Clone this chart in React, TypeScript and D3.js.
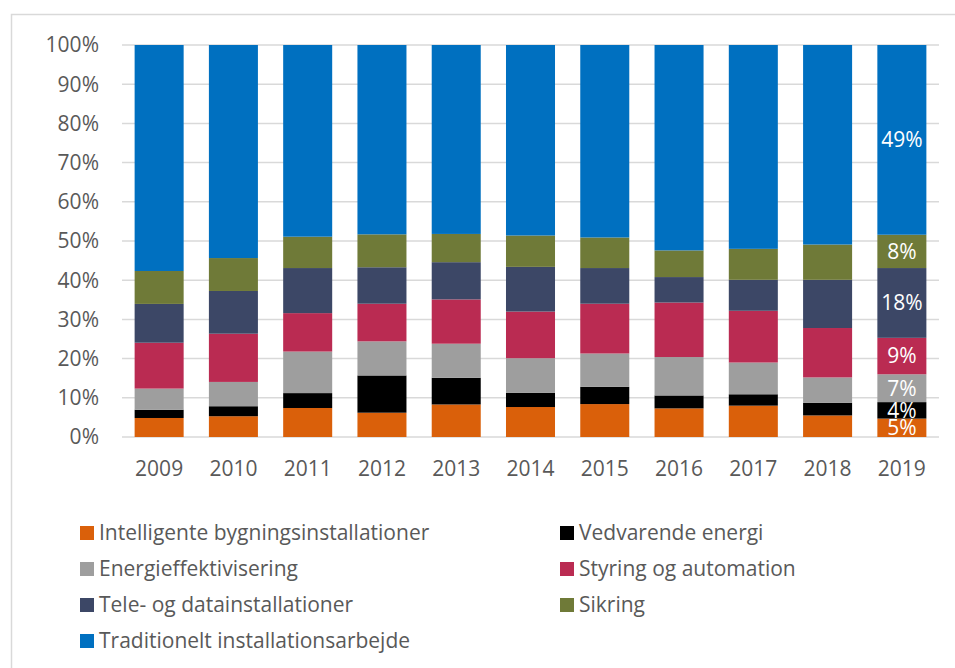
import React from "react";
import * as d3 from "d3";

const years = ["2009","2010","2011","2012","2013","2014","2015","2016","2017","2018","2019"];
const seriesNames = [
  "Intelligente bygningsinstallationer",
  "Vedvarende energi",
  "Energieffektivisering",
  "Styring og automation",
  "Tele- og datainstallationer",
  "Sikring",
  "Traditionelt installationsarbejde",
];
const colors = ["#DA600A", "#000000", "#9E9E9E", "#BA2B52", "#3C4766", "#6F7A38", "#0070C0"];

const intelligente = [4.85, 5.3, 7.4, 6.2, 8.3, 7.65, 8.4, 7.3, 8.0, 5.5, 4.7];
const vedvarende = [2.1, 2.55, 3.8, 9.5, 6.8, 3.65, 4.4, 3.3, 2.9, 3.2, 4.2];
const energieff = [5.4, 6.2, 10.6, 8.7, 8.7, 8.8, 8.5, 9.8, 8.1, 6.5, 7.1];
const styring = [11.7, 12.3, 9.8, 9.6, 11.3, 11.9, 12.7, 13.9, 13.2, 12.6, 9.3];
const tele = [9.9, 10.9, 11.5, 9.3, 9.5, 11.4, 9.1, 6.5, 7.9, 12.3, 17.8];
const sikring = [8.4, 8.4, 8.0, 8.4, 7.2, 8.0, 7.8, 6.8, 7.9, 9.0, 8.5];
const traditionelt = [57.65, 54.35, 48.9, 48.3, 48.2, 48.6, 49.1, 52.4, 52.0, 50.9, 48.4];

const labelYear = "2019";
const labelTexts = ["5%", "4%", "7%", "9%", "18%", "8%", "49%"];
const yTicks = [0, 10, 20, 30, 40, 50, 60, 70, 80, 90, 100];

const seriesValues = [intelligente, vedvarende, energieff, styring, tele, sikring, traditionelt];

const FONT = "'Open Sans', 'Noto Sans', sans-serif";
const TEXT = "#595959";

export default function App() {
  const rows = years.map((y, i) => {
    const o: any = { year: y };
    seriesNames.forEach((s, k) => (o[s] = seriesValues[k][i]));
    return o;
  });
  const stack = d3.stack<any>().keys(seriesNames)(rows);

  const x = d3.scaleBand<string>().domain(years).range([122, 939]).paddingInner(0.34).paddingOuter(0.17);
  const y = d3.scaleLinear().domain([0, 100]).range([437, 45]);

  const legendCols = [80, 560];
  const legendRows = [533, 569, 605, 641];

  return (
    <svg width={955} height={668} style={{ position: "absolute", left: 0, top: 0, background: "#fff" }} fontFamily={FONT}>
      <rect x={11.5} y={14.5} width={1000} height={700} fill="#fff" stroke="#D9D9D9" strokeWidth={1.5} />
      {yTicks.map((t) => (
        <g key={t}>
          <line x1={122} x2={939} y1={y(t)} y2={y(t)} stroke="#D9D9D9" strokeWidth={1.5} />
          <text x={99} y={y(t)} dy="0.35em" textAnchor="end" fontSize={21} fill={TEXT}>{t}%</text>
        </g>
      ))}
      {stack.map((layer, k) => (
        <g key={layer.key} fill={colors[k]}>
          {layer.map((d, i) => (
            <rect key={i} x={x(years[i])} width={x.bandwidth()} y={y(d[1])} height={y(d[0]) - y(d[1])} />
          ))}
        </g>
      ))}
      {stack.map((layer, k) => {
        const i = years.indexOf(labelYear);
        const d = layer[i];
        return (
          <text key={k} x={(x(labelYear) as number) + x.bandwidth() / 2} y={y((d[0] + d[1]) / 2)} dy="0.35em"
            textAnchor="middle" fontSize={21} fill="#fff">{labelTexts[k]}</text>
        );
      })}
      {years.map((yr) => (
        <text key={yr} x={(x(yr) as number) + x.bandwidth() / 2} y={469} dy="0.35em" textAnchor="middle" fontSize={21} fill={TEXT}>{yr}</text>
      ))}
      {seriesNames.map((s, k) => {
        const cx = legendCols[k % 2];
        const cy = legendRows[Math.floor(k / 2)];
        return (
          <g key={s}>
            <rect x={cx} y={cy - 7} width={14} height={14} fill={colors[k]} />
            <text x={cx + 19} y={cy} dy="0.35em" fontSize={21} fill={TEXT}>{s}</text>
          </g>
        );
      })}
    </svg>
  );
}
